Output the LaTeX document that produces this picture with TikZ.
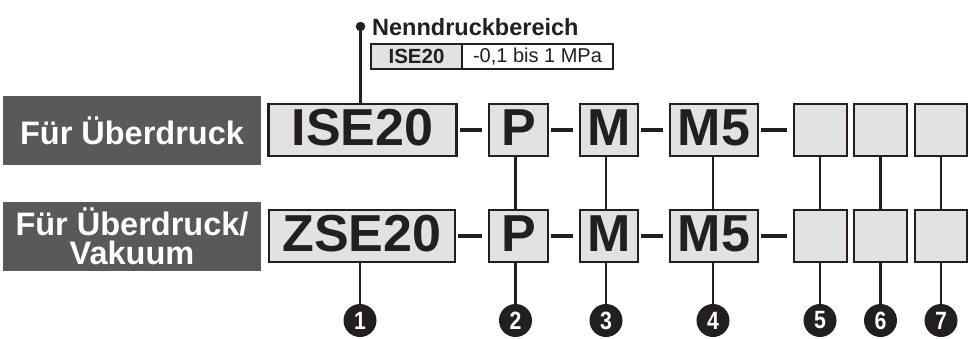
\documentclass[tikz,border=0pt]{standalone}
\usepackage{fontspec}
\setmainfont{Liberation Sans}
\definecolor{darklbl}{HTML}{58595B}
\definecolor{boxfill}{HTML}{E1E2E4}
\definecolor{ink}{HTML}{231F20}
\begin{document}
\begin{tikzpicture}[x=1pt,y=-1pt,
  lbl/.style={fill=darklbl, text=white, minimum width=258pt, minimum height=69pt, inner sep=0pt, align=center,
    font=\fontsize{32.5}{29.5}\selectfont\bfseries},
  code/.style={draw=ink, fill=boxfill, line width=2.2pt, inner sep=0pt, minimum height=52pt, text=ink,
    text depth=5pt, font=\fontsize{52}{52}\selectfont\bfseries},
  dashline/.style={draw=ink, line width=4pt},
  conn/.style={draw=ink, line width=2.8pt},
  num/.style={circle, fill=ink, text=white, minimum size=33pt, inner sep=0pt,
    font=\fontsize{25}{25}\selectfont\bfseries},
  cell/.style={draw=ink, line width=1.8pt, minimum height=25pt, inner sep=0pt, text=ink,
    font=\fontsize{20}{20}\selectfont}
]
\useasboundingbox (0,0) rectangle (969,338);

% labels
\node[lbl] (l1) at (132,130.5) {Für Überdruck};
\node[lbl] (l2) at (132,236.5) {Für Überdruck/\\Vakuum};

% top row
\node[code, minimum width=188pt] (ise) at (362.5,130) {ISE20};
\node[code, minimum width=59pt] (p1) at (518.5,130) {P};
\node[code, minimum width=58pt] (m1) at (609,130) {M};
\node[code, minimum width=88pt] (mf1) at (714,130) {M5};
\node[code, minimum width=53pt] (ea1) at (820.5,130) {};
\node[code, minimum width=53pt] (eb1) at (880.5,130) {};
\node[code, minimum width=52pt] (ec1) at (941,130) {};

% bottom row
\node[code, minimum width=186pt] (zse) at (362,236) {ZSE20};
\node[code, minimum width=59pt] (p2) at (518.5,236) {P};
\node[code, minimum width=58pt] (m2) at (609,236) {M};
\node[code, minimum width=88pt] (mf2) at (714,236) {M5};
\node[code, minimum width=53pt] (ea2) at (820.5,236) {};
\node[code, minimum width=53pt] (eb2) at (880.5,236) {};
\node[code, minimum width=52pt] (ec2) at (941,236) {};

% dashes
\foreach \a/\b in {ise/p1,p1/m1,m1/mf1,mf1/ea1,zse/p2,p2/m2,m2/mf2,mf2/ea2}
  \draw[dashline] ([xshift=2pt]\a.east) -- ([xshift=-6pt]\b.west);

% number circles
\node[num] (c1) at (360,320.5) {\scalebox{0.85}[1]{1}};
\node[num] (c2) at (515.5,320.5) {\scalebox{0.85}[1]{2}};
\node[num] (c3) at (606,320.5) {\scalebox{0.85}[1]{3}};
\node[num] (c4) at (713,320.5) {\scalebox{0.85}[1]{4}};
\node[num] (c5) at (820,320.5) {\scalebox{0.85}[1]{5}};
\node[num] (c6) at (880.5,320.5) {\scalebox{0.85}[1]{6}};
\node[num] (c7) at (941,320.5) {\scalebox{0.85}[1]{7}};

% vertical connectors
\foreach \c/\u/\d in {c2/p1/p2,c3/m1/m2,c4/mf1/mf2,c5/ea1/ea2,c6/eb1/eb2,c7/ec1/ec2}{
  \draw[conn] (\c |- \u.south) -- (\c |- \d.north);
  \draw[conn] (\c |- \d.south) -- (\c);
}
\draw[conn] (c1 |- zse.south) -- (c1);

% Nenndruckbereich
\node[circle, fill=ink, minimum size=9.5pt, inner sep=0pt] (dot) at (360.5,26.5) {};
\draw[conn] (dot) -- (dot |- ise.north);
\node[anchor=base west, inner sep=0pt, text=ink, font=\fontsize{23.5}{23.5}\selectfont\bfseries] (title) at (372,35) {Nenndruckbereich};
\node[cell, fill=boxfill, minimum width=91pt, font=\fontsize{20.5}{20.5}\selectfont\bfseries] (ta) at (416.5,56.5) {ISE20};
\node[cell, fill=white, minimum width=151pt] (tb) at (537.5,56.5) {-0,1 bis 1 MPa};
\end{tikzpicture}
\end{document}
